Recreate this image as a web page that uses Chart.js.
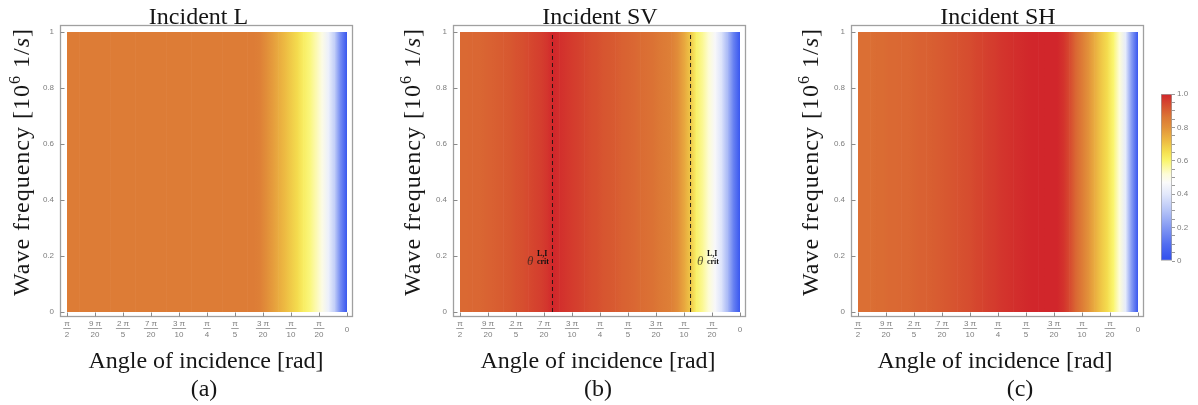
<!DOCTYPE html>
<html>
<head>
<meta charset="utf-8">
<script src="https://cdn.jsdelivr.net/npm/chart.js@4.4.1/dist/chart.umd.min.js"></script>
<style>
  html, body { margin:0; padding:0; background:#fff; }
  body { width:1198px; height:405px; position:relative; overflow:hidden; }
  canvas { position:absolute; top:0; }
  .t { position:absolute; font-family:"Liberation Serif", serif; font-size:24px; line-height:1; color:#161616; white-space:nowrap; }
  .c { transform:translateX(-50%); }
  .yt { transform:translate(-50%,-50%) rotate(-90deg); letter-spacing:1px; }
  .th { position:absolute; font-family:"Liberation Serif", serif; font-style:italic; font-size:13px; line-height:1; color:rgba(40,35,30,0.75); }
  .ss { position:absolute; font-family:"Liberation Serif", serif; font-weight:bold; font-size:8px; line-height:1; color:#111; }
</style>
</head>
<body>
<canvas id="pa" width="360" height="405" style="left:0px"></canvas>
<canvas id="pb" width="360" height="405" style="left:400px"></canvas>
<canvas id="pc" width="360" height="405" style="left:800px"></canvas>
<canvas id="cb" width="48" height="405" style="left:1150px"></canvas>

<div class="t c" style="left:198.5px;top:4px">Incident L</div>
<div class="t c" style="left:600px;top:4px">Incident SV</div>
<div class="t c" style="left:998px;top:4px">Incident SH</div>

<div class="t yt" style="left:21px;top:162px">Wave frequency [10<span style="font-size:16px;position:relative;top:-9px">6</span> 1/<i>s</i>]</div>
<div class="t yt" style="left:412px;top:162px">Wave frequency [10<span style="font-size:16px;position:relative;top:-9px">6</span> 1/<i>s</i>]</div>
<div class="t yt" style="left:810px;top:162px">Wave frequency [10<span style="font-size:16px;position:relative;top:-9px">6</span> 1/<i>s</i>]</div>

<div class="t c" style="left:206px;top:348px">Angle of incidence [rad]</div>
<div class="t c" style="left:598px;top:348px">Angle of incidence [rad]</div>
<div class="t c" style="left:995px;top:348px">Angle of incidence [rad]</div>

<div class="t c" style="left:204px;top:376px">(a)</div>
<div class="t c" style="left:598px;top:376px">(b)</div>
<div class="t c" style="left:1020px;top:376px">(c)</div>

<div class="th" style="left:527px;top:254px">θ</div>
<div class="ss" style="left:537px;top:250px">L,I</div>
<div class="ss" style="left:537px;top:258px">crit</div>
<div class="th" style="left:697px;top:254px">θ</div>
<div class="ss" style="left:707px;top:250px">L,I</div>
<div class="ss" style="left:707px;top:258px">crit</div>

<script>
// ---------------- DATA ----------------
const angleDeg = [0,2,4,6,8,10,12,14,16,18,20,22,24,26,28,30,32,34,36,38,40,42,44,46,48,50,52,54,56,58,60,62,64,66,68,70,72,74,76,78,80,82,84,86,88,90];

const incidentL = [0.03,0.16,0.33,0.43,0.50,0.55,0.59,0.62,0.66,0.69,0.72,0.75,0.78,0.81,0.84,0.85,
  0.85,0.85,0.85,0.85,0.85,0.85,0.85,0.85,0.85,0.85,0.85,0.85,0.85,0.85,
  0.85,0.85,0.85,0.85,0.85,0.85,0.85,0.85,0.85,0.85,0.85,0.85,0.85,0.85,0.85,0.85];

const incidentSV = [0.03,0.14,0.28,0.39,0.46,0.52,0.57,0.61,0.70,0.76,0.81,0.84,0.85,0.86,0.87,0.875,
  0.88,0.89,0.895,0.90,0.91,0.915,0.92,0.93,0.935,0.945,0.955,0.965,0.975,0.985,
  1.0,0.975,0.96,0.95,0.94,0.93,0.925,0.915,0.91,0.905,0.90,0.895,0.89,0.89,0.885,0.885];

const incidentSH = [0.03,0.20,0.41,0.52,0.60,0.66,0.70,0.75,0.80,0.85,0.89,0.94,0.98,1.0,1.0,1.0,
  1.0,1.0,0.995,0.99,0.985,0.98,0.975,0.965,0.96,0.95,0.945,0.935,0.93,0.925,
  0.92,0.915,0.91,0.905,0.90,0.90,0.895,0.89,0.89,0.885,0.885,0.88,0.88,0.875,0.875,0.875];

const critAnglesSV = [1.052, 0.2775];          // rad, dashed lines in panel (b)

const freqTicks = [0,0.2,0.4,0.6,0.8,1];
const freqTickLabels = ['0','0.2','0.4','0.6','0.8','1'];
const angleTickK = [0,1,2,3,4,5,6,7,8,9,10];     // multiples of π/20
const angleTickLabels = ['0',['π','20'],['π','10'],['3 π','20'],['π','5'],['π','4'],['3 π','10'],['7 π','20'],['2 π','5'],['9 π','20'],['π','2']];
const colorbarTickK = [0,1,2,3,4,5,6,7,8,9,10,11,12,13,14,15,16,17,18,19,20]; // multiples of 0.05
const colorbarLabels = {0:'0',4:'0.2',8:'0.4',12:'0.6',16:'0.8',20:'1.0'};

// ---------------- STYLE ----------------
const cmapStops = [
  [0.00,[46,77,238]],[0.10,[82,110,240]],[0.20,[130,152,243]],[0.30,[180,195,247]],
  [0.40,[226,232,251]],[0.47,[250,250,250]],[0.52,[253,252,215]],[0.60,[250,245,110]],
  [0.65,[245,225,80]],[0.72,[237,186,66]],[0.80,[226,145,58]],[0.86,[220,120,53]],
  [0.92,[215,85,48]],[1.00,[209,38,43]]
];
function cmap(v){
  v = Math.max(0, Math.min(1, v));
  for (let i=0;i<cmapStops.length-1;i++){
    const [a,ca] = cmapStops[i], [b,cb] = cmapStops[i+1];
    if (v <= b){
      const t = (v-a)/(b-a);
      const c = ca.map((x,j)=>Math.round(x + (cb[j]-x)*t));
      return `rgb(${c[0]},${c[1]},${c[2]})`;
    }
  }
  const c = cmapStops[cmapStops.length-1][1];
  return `rgb(${c[0]},${c[1]},${c[2]})`;
}
const tickFont = {family:'"Liberation Sans", Arial, sans-serif', size:8, lineHeight:1.375};
const tickColor = '#7d7d7d';
const CHART_TOP = 32, CHART_BOTTOM = 312, CANVAS_H = 405, CANVAS_W = 360, PLOT_W = 280;

const framePlugin = {
  id:'frame',
  afterDraw(chart){
    const {ctx} = chart;
    const {left,right,top,bottom} = chart.chartArea;
    const xs = chart.scales.x, ys = chart.scales.y;
    const fl = left-6.5, fr = right+5.5, ft = top-6.5, fb = bottom+4.5;
    ctx.save();
    ctx.strokeStyle = '#a0a0a0'; ctx.lineWidth = 1.3;
    ctx.strokeRect(fl, ft, fr-fl, fb-ft);
    ctx.lineWidth = 1; ctx.strokeStyle = '#8a8a8a';
    xs.ticks.forEach(t => {
      const p = Math.round(xs.getPixelForValue(t.value)) + 0.5;
      ctx.beginPath(); ctx.moveTo(p, fb); ctx.lineTo(p, fb-4); ctx.stroke();
    });
    ys.ticks.forEach(t => {
      const p = Math.round(ys.getPixelForValue(t.value)) + 0.5;
      ctx.beginPath(); ctx.moveTo(fl, p); ctx.lineTo(fl+4, p); ctx.stroke();
    });
    ctx.font = '8px "Liberation Sans", Arial, sans-serif';
    ctx.strokeStyle = '#a0a0a0';
    xs.ticks.forEach((t,i) => {
      const lab = angleTickLabels[i];
      if (Array.isArray(lab) && lab.length === 2){
        const w = Math.max(ctx.measureText(lab[0]).width, ctx.measureText(lab[1]).width) + 2;
        const p = xs.getPixelForValue(t.value);
        const y = bottom + 16.5;
        ctx.beginPath(); ctx.moveTo(p - w/2, y); ctx.lineTo(p + w/2, y); ctx.stroke();
      }
    });
    ctx.restore();
  }
};

function makePanel(id, chartLeft, vals, crit){
  const rad = angleDeg.map(d => d*Math.PI/180);
  const cells = [];
  for (let i=0;i<rad.length-1;i++) cells.push({x:[rad[i], rad[i+1]], y:'f'});
  const datasets = [];
  crit.forEach(c => datasets.push({
    type:'line', data:[{x:c,y:0},{x:c,y:1}], xAxisID:'x', yAxisID:'y',
    borderColor:'rgba(25,20,15,0.9)', borderWidth:1, borderDash:[4,3],
    pointRadius:0, fill:false, order:0
  }));
  datasets.push({
    type:'bar', indexAxis:'y', xAxisID:'x', yAxisID:'yc', data:cells, order:1,
    barPercentage:1, categoryPercentage:1, borderWidth:0,
    backgroundColor: (c) => {
      const ch = c.chart;
      if (c.dataIndex === undefined || !ch.chartArea || !ch.scales.x) return '#ffffff';
      const i = c.dataIndex, xs = ch.scales.x;
      const p0 = xs.getPixelForValue(rad[i]), p1 = xs.getPixelForValue(rad[i+1]);
      const g = ch.ctx.createLinearGradient(p0, 0, p1, 0);
      g.addColorStop(0, cmap(vals[i]));
      g.addColorStop(1, cmap(vals[i+1]));
      return g;
    }
  });
  return new Chart(document.getElementById(id), {
    type:'bar',
    data:{labels:['f'], datasets},
    options:{
      responsive:false, animation:false, events:[],
      layout:{autoPadding:false, padding:{left:0, top:CHART_TOP, right:CANVAS_W-(chartLeft+PLOT_W), bottom:0}},
      plugins:{legend:{display:false}, tooltip:{enabled:false}, title:{display:false}},
      scales:{
        x:{type:'linear', position:'bottom', min:0, max:Math.PI/2, reverse:true, offset:false,
           afterBuildTicks: s => { s.ticks = angleTickK.map(k => ({value:k*Math.PI/20})); },
           afterFit: s => { s.height = CANVAS_H - CHART_BOTTOM; },
           grid:{display:false, drawTicks:false, offset:false}, border:{display:false},
           ticks:{autoSkip:false, maxRotation:0, minRotation:0, padding:12, crossAlign:'center',
                  font:tickFont, color:tickColor, callback:(v,i) => angleTickLabels[i]}},
        y:{type:'linear', position:'left', min:0, max:1, offset:false,
           afterBuildTicks: s => { s.ticks = freqTicks.map(v => ({value:v})); },
           afterFit: s => { s.width = chartLeft; },
           grid:{display:false, drawTicks:false, offset:false}, border:{display:false},
           ticks:{padding:13, font:{family:tickFont.family, size:8}, color:tickColor,
                  callback:(v,i) => freqTickLabels[i]}},
        yc:{type:'category', labels:['f'], display:false, position:'left', offset:true}
      }
    },
    plugins:[framePlugin]
  });
}

makePanel('pa', 67, incidentL, []);
makePanel('pb', 60, incidentSV, critAnglesSV);
makePanel('pc', 58, incidentSH, []);

// colour bar
new Chart(document.getElementById('cb'), {
  type:'bar',
  data:{labels:['c'], datasets:[{
    data:[[0,1]], barPercentage:1, categoryPercentage:1,
    borderWidth:1, borderColor:'#a0a0a0', borderSkipped:false,
    backgroundColor:(c) => {
      const ch = c.chart;
      if (!ch.chartArea || !ch.scales.y) return '#888';
      const ys = ch.scales.y;
      const g = ch.ctx.createLinearGradient(0, ys.getPixelForValue(0), 0, ys.getPixelForValue(1));
      cmapStops.forEach(s => g.addColorStop(s[0], cmap(s[0])));
      return g;
    }
  }]},
  options:{
    responsive:false, animation:false, events:[],
    layout:{autoPadding:false, padding:{left:11, top:94, right:0, bottom:144}},
    plugins:{legend:{display:false}, tooltip:{enabled:false}},
    scales:{
      x:{display:false},
      y:{position:'right', min:0, max:1, offset:false,
         afterBuildTicks: s => { s.ticks = colorbarTickK.map(k => ({value:k/20})); },
         afterFit: s => { s.width = 26; },
         grid:{drawOnChartArea:false, drawTicks:true, tickLength:3, color:'#9a9a9a'},
         border:{display:false},
         ticks:{autoSkip:false, padding:2, font:{family:tickFont.family, size:8}, color:tickColor,
                callback:(v,i) => (colorbarLabels[colorbarTickK[i]] !== undefined ? colorbarLabels[colorbarTickK[i]] : '')}}
    }
  }
});
</script>
</body>
</html>
